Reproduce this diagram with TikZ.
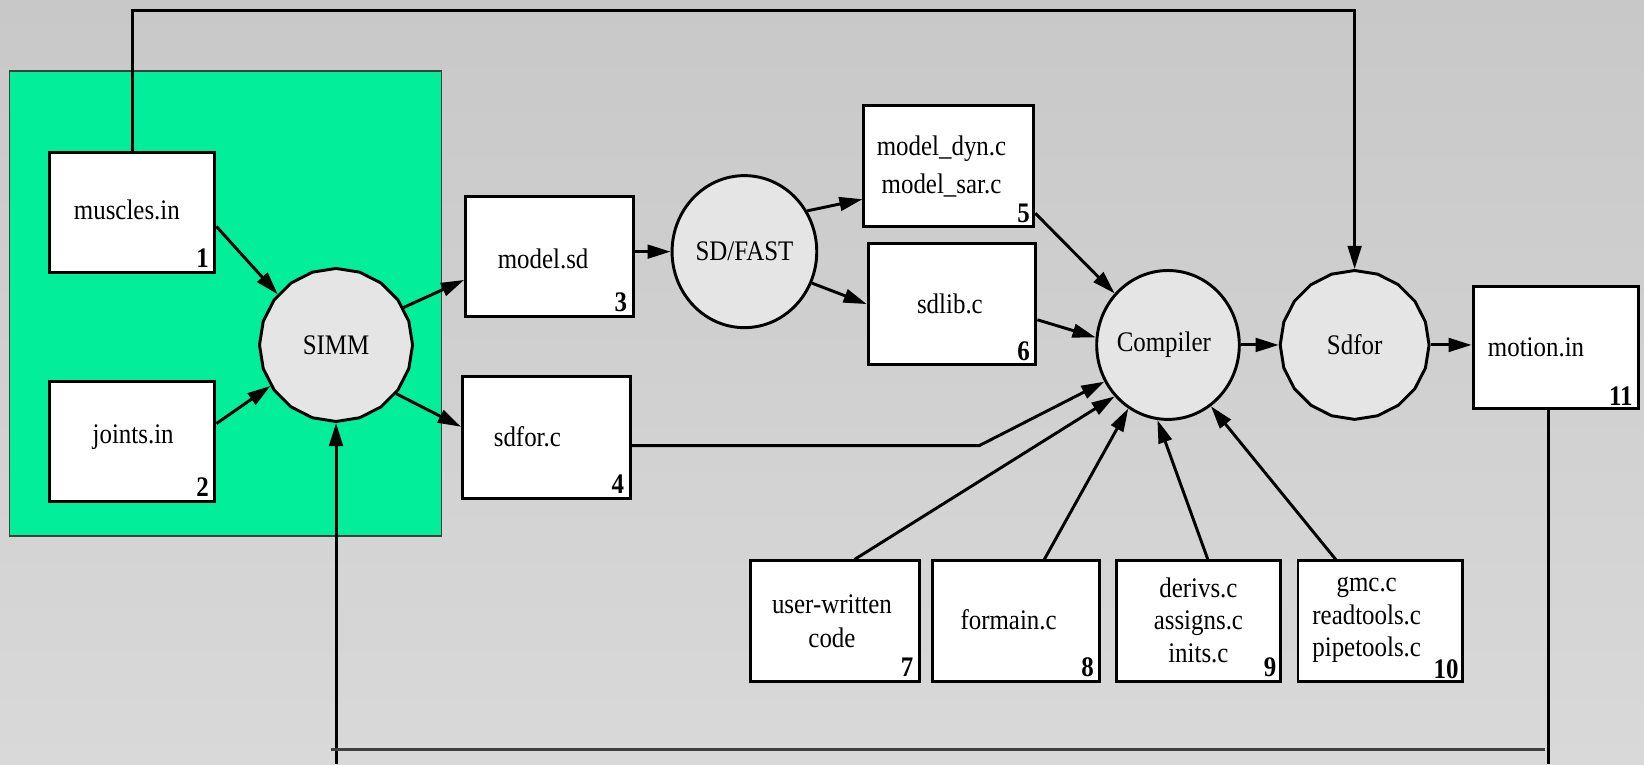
\documentclass[tikz,border=0pt]{standalone}
\usepackage{fontspec}
\setmainfont{Liberation Serif}[FakeStretch=0.88]
\usetikzlibrary{arrows.meta,shapes.geometric,calc}
\definecolor{bgtop}{RGB}{200,200,200}
\definecolor{bgbot}{RGB}{217,217,217}
\definecolor{simmgreen}{RGB}{2,238,154}
\definecolor{procfill}{RGB}{229,229,229}
\definecolor{darkline}{RGB}{64,64,64}
\begin{document}
\begin{tikzpicture}[x=1pt,y=-1pt,
  file/.style={draw=black,line width=2.8pt,fill=white,inner sep=0pt,rectangle},
  proc/.style={draw=black,line width=2.8pt,fill=procfill,ellipse,inner sep=0pt},
  poly/.style={draw=black,line width=2.8pt,fill=procfill,regular polygon,regular polygon sides=20,shape border rotate=9,inner sep=0pt},
  txt/.style={inner sep=0pt,align=center,font=\fontsize{27}{31}\selectfont},
  num/.style={inner sep=0pt,font=\fontsize{27}{31}\selectfont\bfseries,anchor=base east},
  flow/.style={line width=2.8pt,-{Triangle[length=22pt,width=13pt]}},
  wire/.style={line width=2.8pt}]
\useasboundingbox (0,0) rectangle (1568,729);
\shade[top color=bgtop,bottom color=bgbot] (0,0) rectangle (1568,729);
% SIMM region
\draw[darkline,line width=1.6pt,fill=simmgreen] (9,68) rectangle (421,511);
% file boxes
\node[file,minimum width=158pt,minimum height=115pt] (muscles) at (126,202.5) {};
\node[file,minimum width=158pt,minimum height=114pt] (joints) at (126,421) {};
\node[file,minimum width=160pt,minimum height=115pt] (modelsd) at (524,244.5) {};
\node[file,minimum width=160pt,minimum height=116pt] (sdforc) at (521,417) {};
\node[file,minimum width=162pt,minimum height=115pt] (dyn) at (905,158.5) {};
\node[file,minimum width=160pt,minimum height=116pt] (sdlib) at (908,290) {};
\node[file,minimum width=158pt,minimum height=117pt] (motion) at (1484,331.5) {};
\node[file,minimum width=161pt,minimum height=115pt] (b7) at (796.5,592.5) {};
\node[file,minimum width=160pt,minimum height=115pt] (b8) at (969,592.5) {};
\node[file,minimum width=156pt,minimum height=115pt] (b9) at (1143,592.5) {};
\node[file,minimum width=157pt,minimum height=115pt] (b10) at (1316.5,592.5) {};
% processes
\node[poly,minimum size=146pt] (simm) at (320.5,329) {};
\node[proc,minimum width=138pt,minimum height=145pt] (sdfast) at (710,240) {};
\node[proc,minimum width=136pt,minimum height=142pt] (comp) at (1114,329) {};
\node[poly,minimum size=142pt] (sdfor) at (1292,329) {};
% texts
\node[txt] at ([xshift=-5pt,yshift=2pt]muscles.center) {muscles.in};
\node[txt] at ([xshift=1pt,yshift=4pt]joints.center) {joints.in};
\node[txt] at ([xshift=-6pt,yshift=-2pt]modelsd.center) {model.sd};
\node[txt] at ([xshift=-18pt]sdforc.center) {sdfor.c};
\node[txt,font=\fontsize{27}{36}\selectfont] at ([xshift=-7pt]dyn.center) {model\_dyn.c\\model\_sar.c};
\node[txt] at ([xshift=-2pt]sdlib.center) {sdlib.c};
\node[txt] at ([xshift=-19pt]motion.center) {motion.in};
\node[txt,font=\fontsize{27}{32}\selectfont] at ([xshift=-3pt]b7.center) {user-written\\code};
\node[txt] at ([xshift=-7pt,yshift=1pt]b8.center) {formain.c};
\node[txt] at ([xshift=0pt,yshift=1pt]b9.center) {derivs.c\\assigns.c\\inits.c};
\node[txt] at ([xshift=-13pt,yshift=1pt]b10.center) {gmc.c\\readtools.c\\pipetools.c};
\node[txt] at (simm.center) {SIMM};
\node[txt] at (sdfast.center) {SD/FAST};
\node[txt] at ([xshift=-4pt]comp.center) {Compiler};
\node[txt] at (sdfor.center) {Sdfor};
% numbers
\node[num] at ([xshift=-7pt,yshift=6pt]muscles.south east) {1};
\node[num] at ([xshift=-7pt,yshift=6pt]joints.south east) {2};
\node[num] at ([xshift=-7pt,yshift=6pt]modelsd.south east) {3};
\node[num] at ([xshift=-7pt,yshift=6pt]sdforc.south east) {4};
\node[num] at ([xshift=-5pt,yshift=5pt]dyn.south east) {5};
\node[num] at ([xshift=-7pt,yshift=6pt]sdlib.south east) {6};
\node[num] at ([xshift=-7pt,yshift=6pt]b7.south east) {7};
\node[num] at ([xshift=-7pt,yshift=6pt]b8.south east) {8};
\node[num] at ([xshift=-5pt,yshift=6pt]b9.south east) {9};
\node[num] at ([xshift=-5pt,yshift=4pt]b10.south east) {10};
\node[num] at ([xshift=-7pt,yshift=5pt]motion.south east) {11};
% helper coordinates
\coordinate (topline) at (0,10);
\coordinate (bottomref) at (0,729);
\coordinate (bend) at (934,425);
\coordinate (hlineL) at (316,715);
\coordinate (hlineR) at (1474,715);
% connectors
\draw[flow] ([yshift=-13.5pt]muscles.east) -- (simm.139);
\draw[flow] ([yshift=17pt]joints.east) -- (simm.212);
\draw[flow] (simm.29.5) -- ([yshift=-22.5pt]modelsd.west);
\draw[flow] (simm.-39) -- ([yshift=10pt]sdforc.west);
\draw[flow] (sdfast.west -| modelsd.east) -- (sdfast.west);
\draw[flow] (sdfast.33) -- ([yshift=-31.5pt]dyn.west);
\draw[flow] (sdfast.-25) -- (sdlib.west);
\draw[flow] ([yshift=14pt]dyn.south east) -- (comp.136);
\draw[flow] ([yshift=-15pt]sdlib.east) -- (comp.174);
\draw[flow] ([yshift=-8pt]sdforc.east) -- (bend) -- (comp.210);
\draw[flow] ([xshift=18.5pt]b7.north) -- (comp.224);
\draw[flow] ([xshift=27pt]b8.north) -- (comp.238);
\draw[flow] ([xshift=9pt]b9.north) -- (comp.262);
\draw[flow] ([xshift=-42.5pt]b10.north) -- (comp.305);
\draw[flow] (comp.east) -- (comp.east -| sdfor.west);
\draw[flow] (sdfor.east) -- (sdfor.east -| motion.west);
\draw[flow] (muscles.north) -- (muscles.north |- topline) -- (sdfor.north |- topline) -- (sdfor.north);
\draw[flow] (simm.south |- bottomref) -- (simm.south);
\draw[wire] ([xshift=-7pt]motion.south) -- ([xshift=-7pt]motion.south |- bottomref);
\draw[darkline,line width=2.6pt] (hlineL) -- (hlineR);
\end{tikzpicture}
\end{document}
